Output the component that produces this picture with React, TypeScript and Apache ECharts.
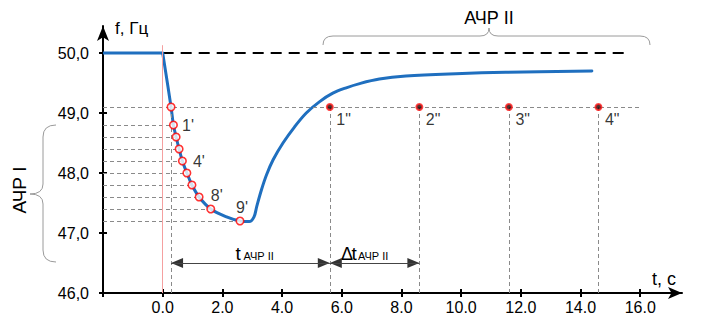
import React, { useEffect, useRef } from 'react';
import * as echarts from 'echarts';

// ---- data ----
const preT = [-2, 0];
const preF = [50, 50];
const curveT = [0, 0.28, 0.36, 0.45, 0.55, 0.66, 0.81, 0.98, 1.22, 1.61, 2.14, 2.59, 2.9, 3.06, 3.15, 3.31, 3.48, 3.7, 4.03, 4.42, 4.81, 5.26, 5.7, 6.15, 6.6, 7.26, 8.15, 9.82, 11.49, 14.38];
const curveF = [50, 49.1, 48.8, 48.6, 48.4, 48.2, 48.0, 47.8, 47.6, 47.4, 47.27, 47.2, 47.19, 47.27, 47.44, 47.72, 47.97, 48.22, 48.5, 48.77, 49.0, 49.19, 49.33, 49.42, 49.49, 49.565, 49.615, 49.655, 49.68, 49.7];
const stepT = [0.28, 0.36, 0.45, 0.55, 0.66, 0.81, 0.98, 1.22, 1.61, 2.59];
const stepF = [49.1, 48.8, 48.6, 48.4, 48.2, 48.0, 47.8, 47.6, 47.4, 47.2];
const stepLabels = ['', "1'", '', '', "4'", '', '', '', "8'", "9'"];
const stageT = [5.6, 8.6, 11.6, 14.6];
const stageF = [49.1, 49.1, 49.1, 49.1];
const stageLabels = ['1"', '2"', '3"', '4"'];
const nominalT = [0, 15.6];
const nominalF = [50, 50];
const thresholdEndT = 16;
const startLineT = 0;
const startLineF = [50.13, 46];
const arrowF = 46.5;
// arrow heads: left-pointing at the start of each span, right-pointing at its end
const arrowLeftT = [0.28, 5.6];
const arrowRightT = [5.6, 8.6];
const xTicks = [-2, 0, 2, 4, 6, 8, 10, 12, 14, 16];
const xLabels = [0, 2, 4, 6, 8, 10, 12, 14, 16];
const yTicks = [46, 47, 48, 49, 50];
const tMin = -2;
const tMax = 17.4;
const fMin = 46;
const fMax = 50.45;

// ---- shapes for braces ----
echarts.graphic.registerShape(
  'braceTop',
  echarts.graphic.extendPath('M323,45 Q323,36 333,36 L480,36 Q489,36 489,28 Q489,36 498,36 L640,36 Q650,36 650,45', {})
);
echarts.graphic.registerShape(
  'braceLeft',
  echarts.graphic.extendPath('M56,125 Q43,125 43,137 L43,184 Q43,194 30,194 Q43,194 43,204 L43,250 Q43,262 56,262', {})
);

const FONT = 'Arial, "Liberation Sans", sans-serif';
const BLUE = '#1f6fbf';

const labelPlacement: Record<number, any> = {
  1: { position: 'right', distance: 4 },
  4: { position: 'right', distance: 6 },
  8: { position: 'top', distance: 1, offset: [6, 0] },
  9: { position: 'top', distance: 1, offset: [2, 0] },
};

function txt(text: string, x: number, y: number, size: number, align: string, extra: any = {}) {
  return {
    type: 'text',
    x,
    y,
    silent: true,
    ...extra,
    style: { text, fontSize: size, fontFamily: FONT, fill: '#000', align, verticalAlign: 'middle' },
  };
}

export default function App() {
  const ref = useRef<HTMLDivElement>(null);
  useEffect(() => {
    if (!ref.current) return;
    const chart = echarts.init(ref.current, null, { renderer: 'svg' });

    const guideLines: any[] = [];
    stepT.forEach((t, i) => {
      guideLines.push([{ coord: [tMin, stepF[i]] }, { coord: [i === 0 ? thresholdEndT : t, stepF[i]] }]);
    });
    guideLines.push([{ coord: [stepT[0], stepF[0]] }, { coord: [stepT[0], fMin] }]);
    stageT.forEach((t, i) => {
      guideLines.push([{ coord: [t, stageF[i]] }, { coord: [t, fMin] }]);
    });

    const axisLineStyle = { color: '#000', width: 2 };

    const option: any = {
      animation: false,
      grid: { left: 103, right: 24, top: 26, bottom: 36, containLabel: false, outerBoundsMode: 'none' },
      xAxis: [
        {
          type: 'value', min: tMin, max: tMax, interval: 2,
          axisLine: { show: true, onZero: false, lineStyle: axisLineStyle, symbol: ['none', 'arrow'], symbolSize: [9, 14] },
          axisTick: { show: true, length: 4, customValues: xTicks, lineStyle: axisLineStyle },
          axisLabel: { customValues: xLabels, formatter: (v: number) => v.toFixed(1), fontSize: 16, fontFamily: FONT, color: '#000', margin: 6 },
          splitLine: { show: false },
        },
        {
          type: 'value', min: tMin, max: tMax, interval: 2, position: 'bottom',
          axisLine: { show: false, onZero: false },
          axisTick: { show: true, inside: true, length: 4, customValues: xTicks, lineStyle: axisLineStyle },
          axisLabel: { show: false },
          splitLine: { show: false },
        },
      ],
      yAxis: [
        {
          type: 'value', min: fMin, max: fMax, interval: 1,
          axisLine: { show: true, onZero: false, lineStyle: axisLineStyle, symbol: ['none', 'arrow'], symbolSize: [9, 15] },
          axisTick: { show: true, length: 4, customValues: yTicks, lineStyle: axisLineStyle },
          axisLabel: { customValues: yTicks, formatter: (v: number) => v.toFixed(1).replace('.', ','), fontSize: 16, fontFamily: FONT, color: '#000', margin: 14 },
          splitLine: { show: false },
        },
        {
          type: 'value', min: fMin, max: fMax, interval: 1, position: 'left',
          axisLine: { show: false, onZero: false },
          axisTick: { show: true, inside: true, length: 4, customValues: yTicks, lineStyle: axisLineStyle },
          axisLabel: { show: false },
          splitLine: { show: false },
        },
      ],
      series: [
        {
          type: 'line', data: [], silent: true, z: 1,
          markLine: {
            silent: true, symbol: ['none', 'none'], label: { show: false }, emphasis: { disabled: true },
            lineStyle: { color: '#8a8a8a', width: 1, type: [4, 3] },
            data: guideLines,
          },
        },
        {
          type: 'line', data: [], silent: true, z: 1,
          markLine: {
            silent: true, symbol: ['none', 'none'], label: { show: false }, emphasis: { disabled: true },
            lineStyle: { color: '#f5a0a0', width: 1, type: 'solid' },
            data: [[{ coord: [startLineT, startLineF[0]] }, { coord: [startLineT, startLineF[1]] }]],
          },
        },
        {
          type: 'line', data: [], silent: true, z: 2,
          markLine: {
            silent: true, symbol: ['none', 'none'],
            label: { show: false }, emphasis: { disabled: true },
            lineStyle: { color: '#444', width: 1, type: 'solid' },
            data: [
              [{ coord: [arrowLeftT[0], arrowF] }, { coord: [arrowRightT[0], arrowF] }],
              [{ coord: [arrowLeftT[1], arrowF] }, { coord: [arrowRightT[1], arrowF] }],
            ],
          },
        },
        {
          type: 'scatter', silent: true, z: 4, symbol: 'triangle', symbolSize: [10, 12],
          symbolRotate: 90, symbolOffset: [6, 0],
          itemStyle: { color: '#000' },
          data: arrowLeftT.map((t) => [t, arrowF]),
        },
        {
          type: 'scatter', silent: true, z: 4, symbol: 'triangle', symbolSize: [10, 12],
          symbolRotate: -90, symbolOffset: [-6, 0],
          itemStyle: { color: '#000' },
          data: arrowRightT.map((t) => [t, arrowF]),
        },
        {
          type: 'line', silent: true, z: 2, symbol: 'none',
          data: nominalT.map((t, i) => [t, nominalF[i]]),
          lineStyle: { color: '#000', width: 2, type: [11, 7] },
        },
        {
          type: 'line', silent: true, z: 3, symbol: 'none',
          data: preT.map((t, i) => [t, preF[i]]),
          lineStyle: { color: BLUE, width: 3 },
        },
        {
          type: 'line', silent: true, z: 3, symbol: 'none', smooth: 0.35,
          data: curveT.map((t, i) => [t, curveF[i]]),
          lineStyle: { color: BLUE, width: 3, cap: 'round', join: 'round' },
        },
        {
          type: 'scatter', silent: true, z: 5, symbol: 'circle', symbolSize: 7.5,
          itemStyle: { color: '#fff', borderColor: '#ff0000', borderWidth: 1.6 },
          data: stepT.map((t, i) => ({
            value: [t, stepF[i]],
            label: stepLabels[i]
              ? { show: true, formatter: stepLabels[i], fontSize: 16, fontFamily: FONT, color: '#000', ...labelPlacement[i] }
              : { show: false },
          })),
        },
        {
          type: 'scatter', silent: true, z: 5, symbol: 'circle', symbolSize: 6,
          itemStyle: { color: '#220000', borderColor: '#ff1a1a', borderWidth: 2 },
          label: {
            show: true, position: 'right', distance: 2.5, offset: [0, 12],
            formatter: (p: any) => stageLabels[p.dataIndex],
            fontSize: 16, fontFamily: FONT, color: '#000',
          },
          data: stageT.map((t, i) => [t, stageF[i]]),
        },
      ],
      graphic: [
        { type: 'braceTop', x: 0, y: 0, silent: true, style: { fill: 'none', stroke: '#9a9a9a', lineWidth: 1 } },
        { type: 'braceLeft', x: 0, y: 0, silent: true, style: { fill: 'none', stroke: '#9a9a9a', lineWidth: 1 } },
        txt('f, Гц', 115, 28, 17, 'left'),
        txt('t, c', 652, 279, 18, 'left'),
        txt('АЧР II', 489, 18, 18, 'center'),
        txt('АЧР I', 19, 190, 19, 'center', { rotation: Math.PI / 2 }),
        txt('t', 235.5, 253.7, 19, 'left'),
        txt('АЧР II', 243.5, 256.2, 11, 'left'),
        txt('Δ', 341, 253.7, 18, 'left'),
        txt('t', 351.5, 253.7, 19, 'left'),
        txt('АЧР II', 358, 256.2, 11, 'left'),
      ],
    };
    chart.setOption(option);
    return () => chart.dispose();
  }, []);
  return <div ref={ref} style={{ position: 'fixed', left: 0, top: 0, width: 706, height: 329, background: '#fff' }} />;
}
